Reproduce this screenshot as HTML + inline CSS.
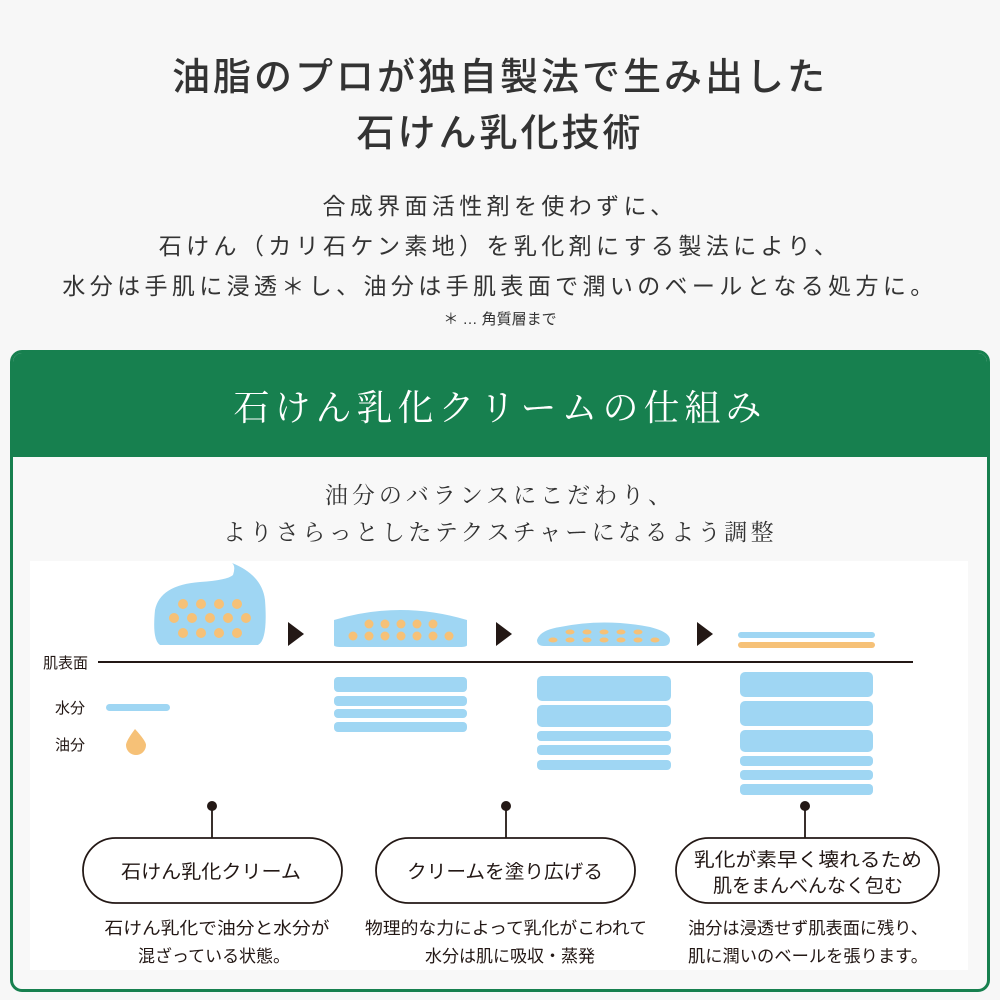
<!DOCTYPE html>
<html><head><meta charset="utf-8"><style>
html,body{margin:0;padding:0}
body{width:1000px;height:1000px;background:#f7f7f7;position:relative;overflow:hidden;font-family:"Liberation Sans","Noto Sans CJK JP",sans-serif;color:#333}
.c{position:absolute;left:0;width:1000px;text-align:center;white-space:nowrap}
.t{font-size:38px;font-weight:500;letter-spacing:3px;color:#333}
.b{font-size:23px;letter-spacing:0.19em;color:#333}
.box{position:absolute;left:10px;top:350px;width:974px;height:636px;border:3px solid #17804f;border-radius:12px;background:#f8f8f8;overflow:hidden}
.hdr{position:absolute;left:0;top:0;width:100%;height:104px;background:#17804f}
.s{font-family:"Liberation Serif","Noto Serif CJK JP",serif}
</style></head><body>
<div class="c t" style="top:46px">油脂のプロが独自製法で生み出した</div>
<div class="c t" style="top:102px">石けん乳化技術</div>
<div class="c b" style="top:187px">合成界面活性剤を使わずに、</div>
<div class="c b" style="top:227px">石けん（カリ石ケン素地）を乳化剤にする製法により、</div>
<div class="c b" style="top:267px">水分は手肌に浸透＊し、油分は手肌表面で潤いのベールとなる処方に。</div>
<div class="c" style="top:308px;font-size:15px">＊ … 角質層まで</div>
<div class="box"><div class="hdr"></div></div>
<div class="c s" style="top:380px;font-size:36px;letter-spacing:5px;color:#fff">石けん乳化クリームの仕組み</div>
<div class="c s" style="top:477px;font-size:23px;letter-spacing:4px">油分のバランスにこだわり、</div>
<div class="c s" style="top:514px;font-size:23px;letter-spacing:3.5px">よりさらっとしたテクスチャーになるよう調整</div>
<svg style="position:absolute;left:0;top:0" width="1000" height="1000" viewBox="0 0 1000 1000">
<rect x="30" y="561" width="938" height="409" fill="#fff"/>
<g fill="#9fd6f3">
<path d="M160 645 Q152 640 155 610 Q160 585 200 582 Q228 580 233 575 Q236 566 232 563 Q262 575 265 600 Q268 640 258 645 Z"/>
<path d="M334 645 L334 620 Q400 600 467 620 L467 645 Q467 647 460 647 L341 647 Q334 647 334 645 Z"/>
<path d="M537 640 Q540 630 560 627 Q604 618 650 627 Q670 632 670 640 Q670 646 663 646 L544 646 Q537 646 537 640 Z"/>
<rect x="738" y="632" width="137" height="6" rx="3"/>
<rect x="106" y="704" width="64" height="7" rx="3.5"/>
<rect x="334" y="677" width="133" height="15" rx="4"/><rect x="334" y="696" width="133" height="10" rx="4"/><rect x="334" y="709" width="133" height="9" rx="4"/><rect x="334" y="722" width="133" height="10" rx="4"/>
<rect x="537" y="676" width="134" height="25" rx="5"/><rect x="537" y="705" width="134" height="22" rx="5"/><rect x="537" y="731" width="134" height="10" rx="4"/><rect x="537" y="745" width="134" height="10" rx="4"/><rect x="537" y="760" width="134" height="10" rx="4"/>
<rect x="740" y="672" width="133" height="25" rx="5"/><rect x="740" y="701" width="133" height="25" rx="5"/><rect x="740" y="730" width="133" height="22" rx="5"/><rect x="740" y="756" width="133" height="10" rx="4"/><rect x="740" y="770" width="133" height="10" rx="4"/><rect x="740" y="784" width="133" height="11" rx="4"/>
</g>
<rect x="738" y="642" width="137" height="6" rx="3" fill="#f6c177"/>
<g fill="#f6c177">
<circle cx="183" cy="604" r="5"/><circle cx="201" cy="604" r="5"/><circle cx="219" cy="604" r="5"/><circle cx="237" cy="604" r="5"/>
<circle cx="174" cy="618" r="5"/><circle cx="192" cy="618" r="5"/><circle cx="210" cy="618" r="5"/><circle cx="228" cy="618" r="5"/><circle cx="246" cy="618" r="5"/>
<circle cx="183" cy="633" r="5"/><circle cx="201" cy="633" r="5"/><circle cx="219" cy="633" r="5"/><circle cx="237" cy="633" r="5"/>
<circle cx="369" cy="624" r="4.5"/><circle cx="385" cy="624" r="4.5"/><circle cx="401" cy="624" r="4.5"/><circle cx="417" cy="624" r="4.5"/><circle cx="433" cy="624" r="4.5"/>
<circle cx="353" cy="636" r="4.5"/><circle cx="369" cy="636" r="4.5"/><circle cx="385" cy="636" r="4.5"/><circle cx="401" cy="636" r="4.5"/><circle cx="417" cy="636" r="4.5"/><circle cx="433" cy="636" r="4.5"/><circle cx="449" cy="636" r="4.5"/>
<ellipse cx="570" cy="632" rx="4.5" ry="2.5"/><ellipse cx="587" cy="632" rx="4.5" ry="2.5"/><ellipse cx="604" cy="632" rx="4.5" ry="2.5"/><ellipse cx="621" cy="632" rx="4.5" ry="2.5"/><ellipse cx="638" cy="632" rx="4.5" ry="2.5"/>
<ellipse cx="553" cy="640" rx="4.5" ry="2.5"/><ellipse cx="570" cy="640" rx="4.5" ry="2.5"/><ellipse cx="587" cy="640" rx="4.5" ry="2.5"/><ellipse cx="604" cy="640" rx="4.5" ry="2.5"/><ellipse cx="621" cy="640" rx="4.5" ry="2.5"/><ellipse cx="638" cy="640" rx="4.5" ry="2.5"/><ellipse cx="655" cy="640" rx="4.5" ry="2.5"/>
<path d="M135 729 Q126 741 126 745 A10 10 0 0 0 146 745 Q146 741 135 729 Z"/>
</g>
<g fill="#231815">
<path d="M288 622 L304 634 L288 646 Z"/><path d="M496 622 L512 634 L496 646 Z"/><path d="M697 622 L713 634 L697 646 Z"/>
</g>
<line x1="98" y1="662" x2="913" y2="662" stroke="#231815" stroke-width="2"/>
<g font-size="15" fill="#231815">
<text x="43" y="668">肌表面</text><text x="55" y="713">水分</text><text x="55" y="750">油分</text>
</g>
<g stroke="#231815" stroke-width="1.8" fill="#fff">
<line x1="212" y1="806" x2="212" y2="838"/><line x1="506" y1="806" x2="506" y2="838"/><line x1="805" y1="806" x2="805" y2="838"/>
<rect x="83" y="838" width="259" height="65" rx="32.5"/>
<rect x="376" y="838" width="259" height="65" rx="32.5"/>
<rect x="676" y="838" width="263" height="65" rx="32.5"/>
</g>
<g fill="#231815"><circle cx="212" cy="806" r="5"/><circle cx="506" cy="806" r="5"/><circle cx="805" cy="806" r="5"/></g>
<g font-size="19" fill="#231815" text-anchor="middle">
<text x="211" y="878" textLength="180" lengthAdjust="spacingAndGlyphs">石けん乳化クリーム</text>
<text x="505" y="878" textLength="196" lengthAdjust="spacingAndGlyphs">クリームを塗り広げる</text>
<text x="808" y="866" textLength="228" lengthAdjust="spacingAndGlyphs">乳化が素早く壊れるため</text>
<text x="808" y="892" textLength="190" lengthAdjust="spacingAndGlyphs">肌をまんべんなく包む</text>
</g>
<g font-size="17" fill="#231815" text-anchor="middle">
<text x="217" y="934" textLength="225" lengthAdjust="spacingAndGlyphs">石けん乳化で油分と水分が</text><text x="214" y="962" textLength="152" lengthAdjust="spacingAndGlyphs">混ざっている状態。</text>
<text x="506" y="934" textLength="282" lengthAdjust="spacingAndGlyphs">物理的な力によって乳化がこわれて</text><text x="510" y="962" textLength="170" lengthAdjust="spacingAndGlyphs">水分は肌に吸収・蒸発</text>
<text x="808" y="934" textLength="240" lengthAdjust="spacingAndGlyphs">油分は浸透せず肌表面に残り、</text><text x="808" y="962" textLength="240" lengthAdjust="spacingAndGlyphs">肌に潤いのベールを張ります。</text>
</g>
</svg>
</body></html>
